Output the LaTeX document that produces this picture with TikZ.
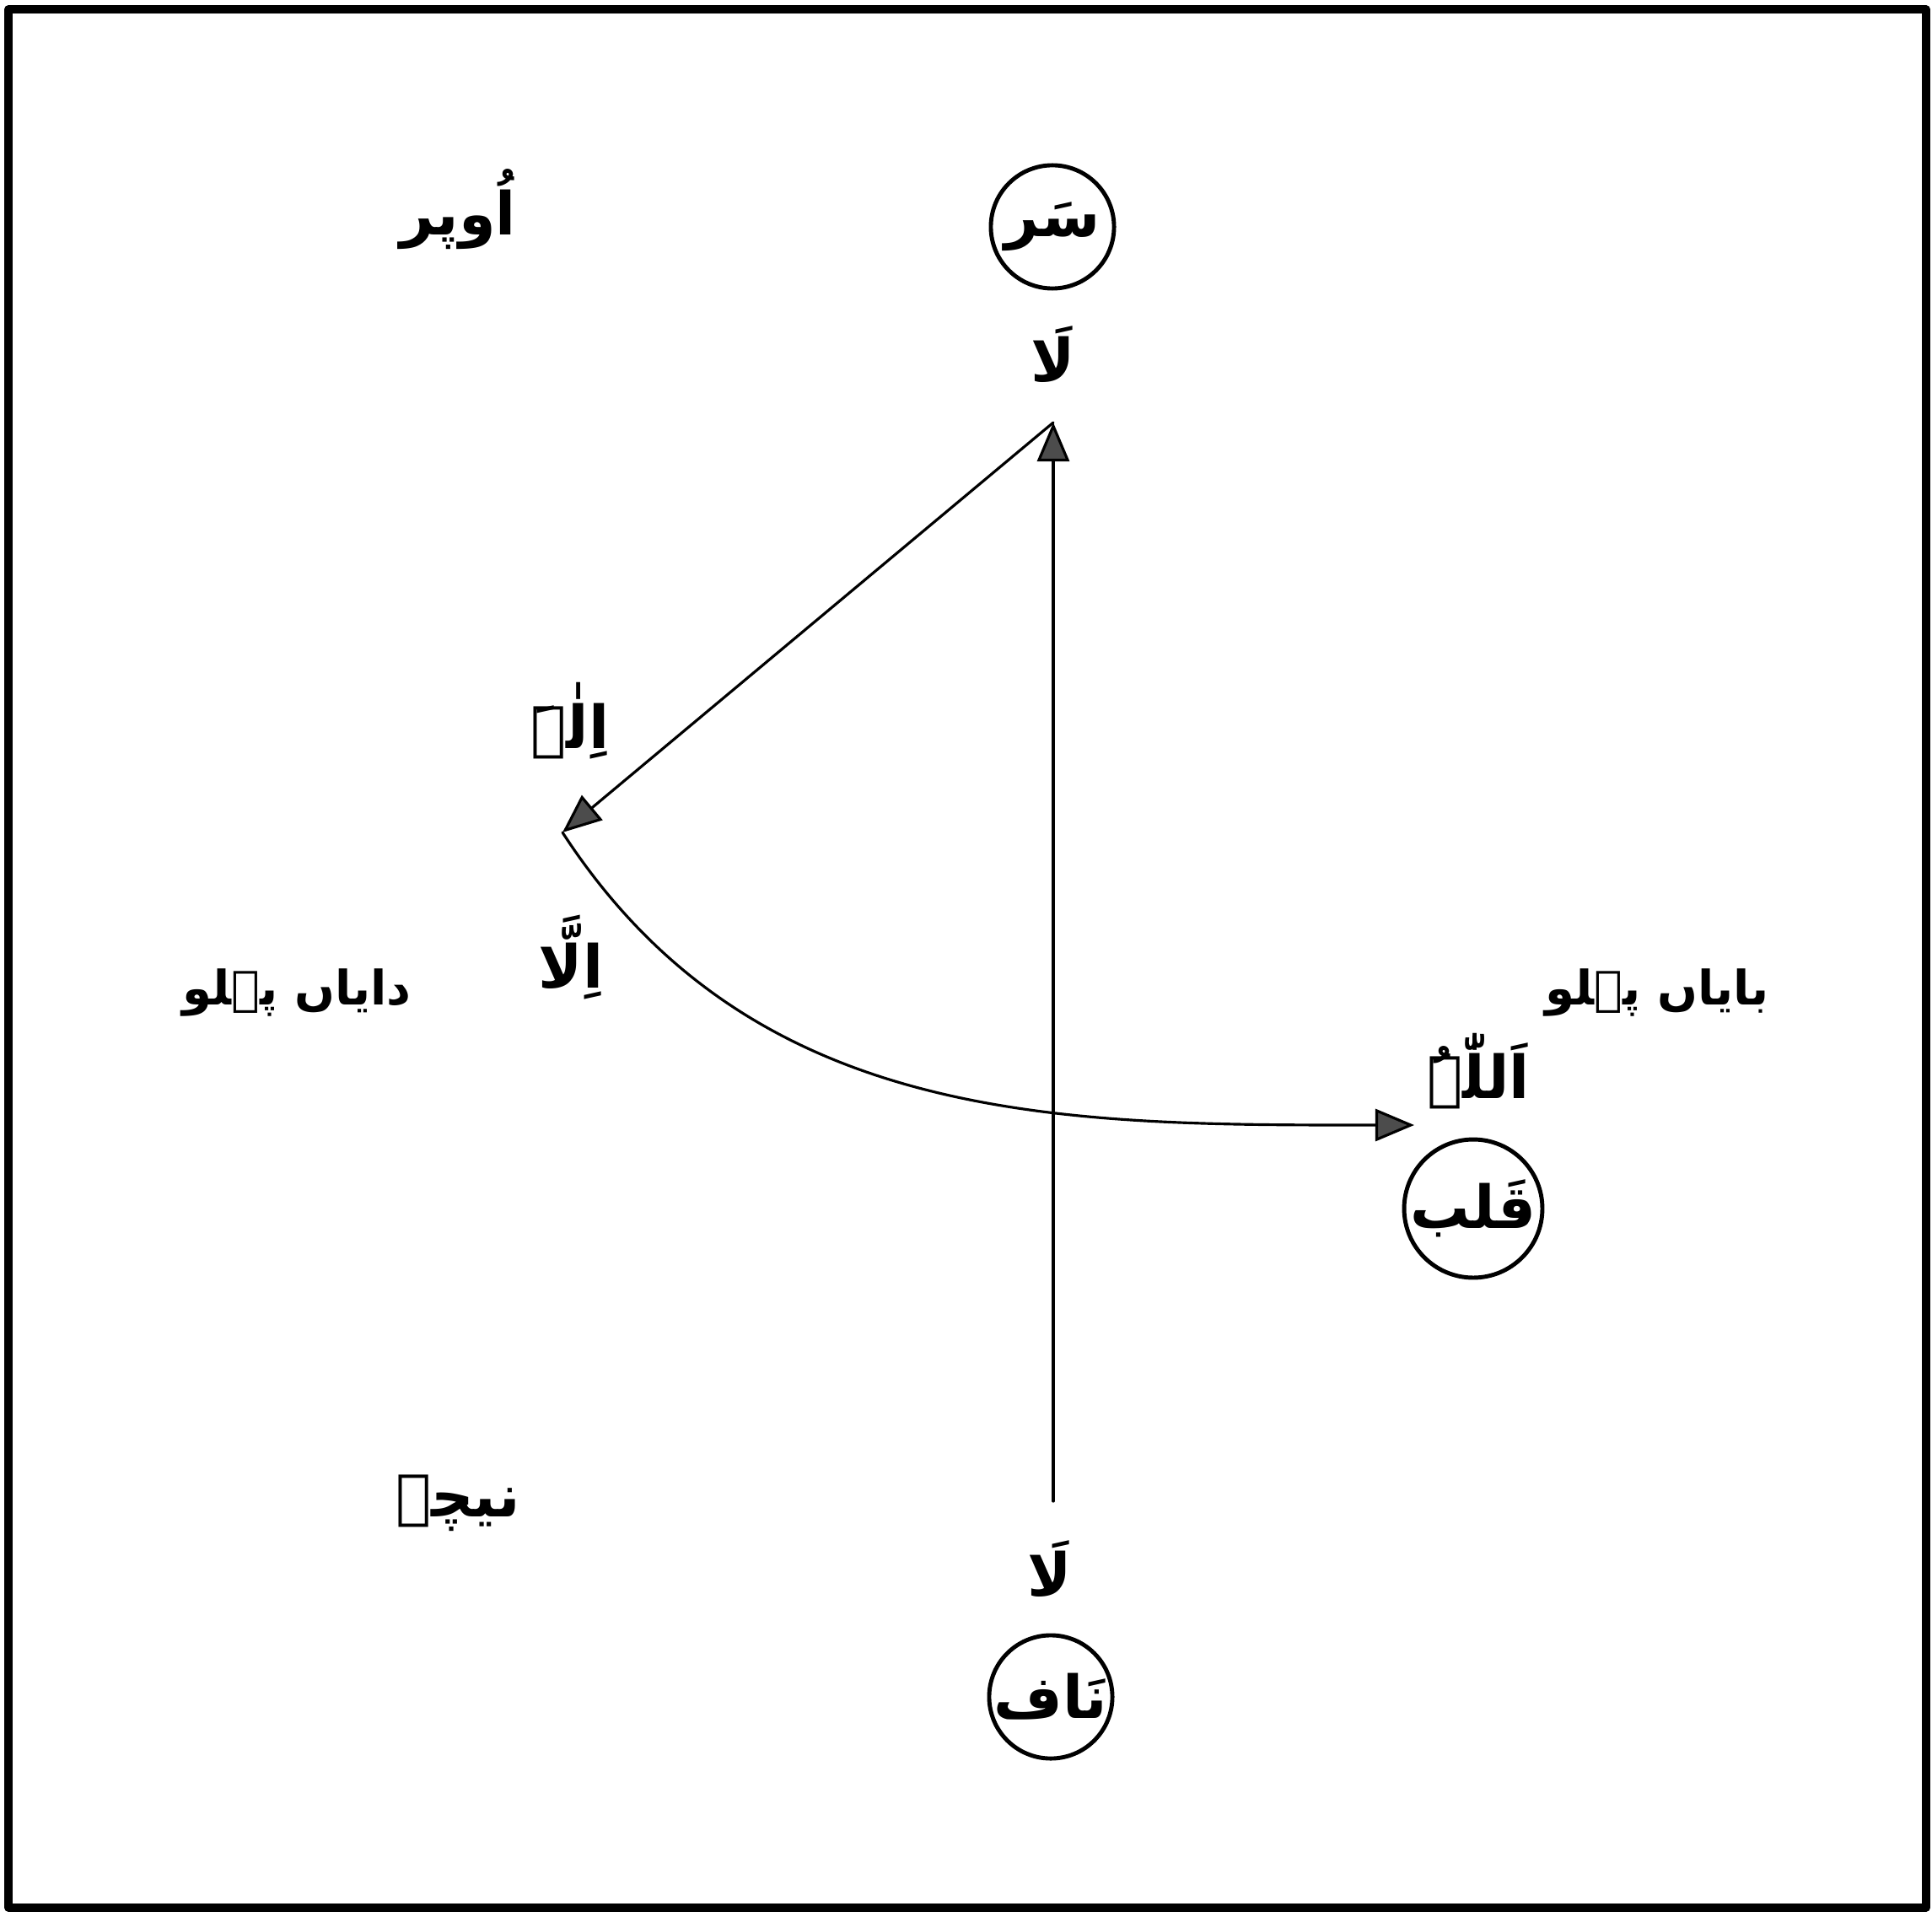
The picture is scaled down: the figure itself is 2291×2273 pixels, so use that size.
\documentclass[tikz,border=0pt]{standalone}
\usepackage{fontspec}
\usetikzlibrary{arrows.meta}
\TeXXeTstate=1
\newfontfamily\urdufont[Script=Arabic]{DejaVu Sans}
\newcommand{\ur}[1]{\urdufont\bfseries\beginR #1\endR}
\begin{document}
\begin{tikzpicture}[x=0.01cm, y=-0.01cm, >={Triangle[length=0.46cm,width=0.38cm,fill=black!70]},
	line join=round, line cap=round, font=\fontsize{20}{24}\selectfont,
	vong/.style={circle, draw, line width=1.4pt, minimum size=1.46cm, inner sep=0pt},
	pehlu/.style={font=\fontsize{16}{20}\selectfont},
	muiten/.style={->, line width=0.9pt}]
	\useasboundingbox (0,0) rectangle (2291,2273);
	\draw[line width=2.6pt] (10,11) rectangle (2284,2262);
	
	% cac vong tron
	\node[vong] (sar) at (1248,269) {\ur{سَر}};
	\node[vong] (qalb) at (1747,1433) {\ur{قَلب}};
	\node[vong] (naf) at (1246,2012) {\ur{نَاف}};
	
	% chu
	\node (la1) at (1249,420) {\ur{لَا}};
	\node (la2) at (1245,1860) {\ur{لَا}};
	\node (ilah) at (676,855) {\ur{اِلٰہَ}};
	\node (illa) at (677,1135) {\ur{اِلَّا}};
	\node (allah) at (1753,1270) {\ur{اَللّٰہُ}};
	\node (upar) at (543,248) {\ur{اُوپر}};
	\node (niche) at (543,1782) {\ur{نیچے}};
	\node[pehlu] (dayan) at (352,1177) {\ur{دایاں پہلو}};
	\node[pehlu] (bayan) at (1965,1177) {\ur{بایاں پہلو}};
	
	\coordinate (tren) at (1249,501);
	\coordinate (duoi) at (1249,1780);
	\coordinate (trai) at (667,987);
	\coordinate (phai) at (1677,1334);
	
	\draw[muiten] (duoi)--(tren);
	\draw[muiten] (tren)--(trai);
	\draw[muiten] (trai) to[out=-57, in=180, looseness=1] (phai);
\end{tikzpicture}
\end{document}
